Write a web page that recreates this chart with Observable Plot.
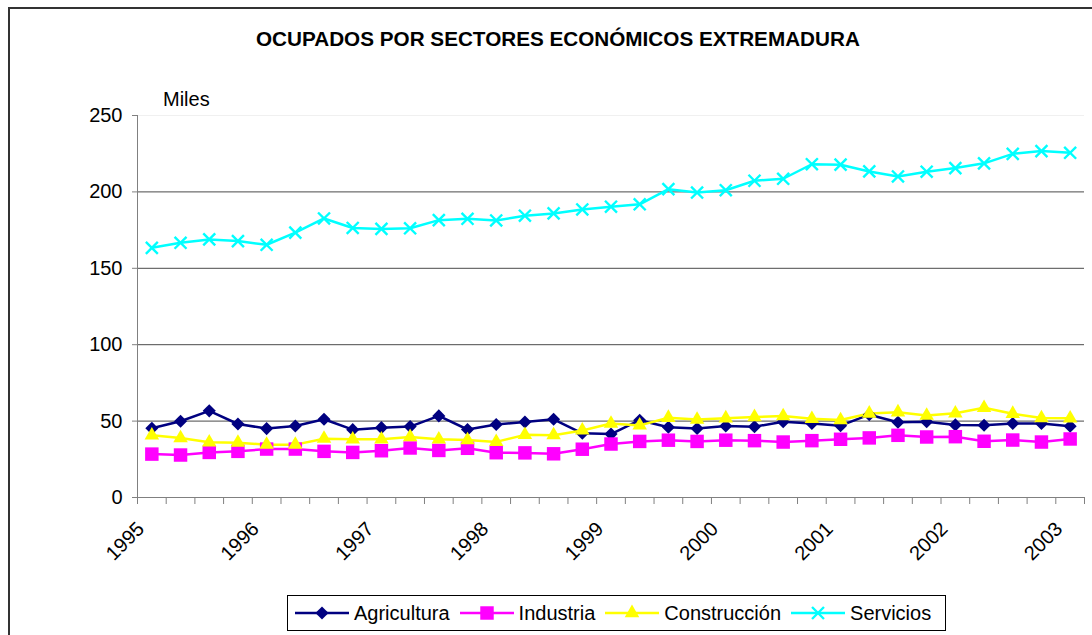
<!DOCTYPE html>
<html>
<head>
<meta charset="utf-8">
<script src="https://cdn.jsdelivr.net/npm/d3@7"></script>
<script src="https://cdn.jsdelivr.net/npm/@observablehq/plot@0.6"></script>
<style>
  html, body { margin: 0; padding: 0; background: #fff; overflow: hidden; }
  #wrap { position: relative; width: 1092px; height: 635px; overflow: hidden; font-family: "Liberation Sans", Arial, sans-serif; color: #000; }
  #border { position: absolute; left: 8px; top: 7px; width: 2000px; height: 2000px; border-top: 2px solid #333; border-left: 2px solid #333; }
  #chart { position: absolute; left: 0; top: 0; }
  #title { position: absolute; left: 256px; top: 28px; font-size: 20.7px; line-height: 21px; font-weight: bold; white-space: nowrap; }
  #unit { position: absolute; left: 163px; top: 89px; font-size: 20px; line-height: 20px; white-space: nowrap; }
  #legend { position: absolute; left: 287px; top: 595px; width: 657px; height: 34px; border: 1px solid #000; display: flex; align-items: center; font-size: 20px; white-space: nowrap; box-sizing: content-box; }
  .item { display: flex; align-items: center; margin-left: 7px; margin-right: 3px; }
  .item svg { margin-right: 5px; }
</style>
</head>
<body>
<div id="wrap">
  <div id="border"></div>
  <div id="chart"></div>
  <div id="title">OCUPADOS POR SECTORES ECONÓMICOS EXTREMADURA</div>
  <div id="unit">Miles</div>
  <div id="legend"></div>
</div>
<script>
// Quarterly categories 1995-I .. 2003-I
const quarters = [
  "1995-I","1995-II","1995-III","1995-IV",
  "1996-I","1996-II","1996-III","1996-IV",
  "1997-I","1997-II","1997-III","1997-IV",
  "1998-I","1998-II","1998-III","1998-IV",
  "1999-I","1999-II","1999-III","1999-IV",
  "2000-I","2000-II","2000-III","2000-IV",
  "2001-I","2001-II","2001-III","2001-IV",
  "2002-I","2002-II","2002-III","2002-IV",
  "2003-I"
];
const yearLabels = ["1995","1996","1997","1998","1999","2000","2001","2002","2003"];
const yTicks = [0, 50, 100, 150, 200, 250];

const seriesNames = ["Agricultura", "Industria", "Construcción", "Servicios"];
const seriesColors = ["#000080", "#FF00FF", "#FFFF00", "#00FFFF"];
const seriesSymbols = ["diamond2", "square", "triangle", "times"];

const agricultura = [45.3, 49.9, 56.7, 48.1, 45.1, 46.8, 51.2, 44.4, 45.7, 46.4, 53.4, 44.5, 47.8, 49.4, 51.2, 42.0, 41.5,
  50.6, 46.0, 45.2, 46.8, 46.3, 49.6, 48.4, 47.0, 54.2, 49.2, 49.6, 47.5, 47.3, 48.4, 48.4, 46.6];
const industria = [28.4, 27.8, 29.5, 30.2, 31.7, 31.7, 30.2, 29.5, 30.6, 32.4, 30.8, 32.2, 29.3, 29.2, 28.6, 31.6, 35.0,
  36.7, 37.5, 36.7, 37.5, 37.2, 36.3, 37.2, 38.1, 39.0, 40.7, 39.6, 39.8, 36.8, 37.6, 36.3, 38.3];
const construccion = [40.7, 38.9, 36.1, 35.9, 34.6, 34.6, 38.5, 38.1, 38.1, 39.6, 38.1, 37.6, 36.4, 41.0, 40.8, 43.9, 48.4,
  47.2, 52.2, 51.0, 51.9, 52.7, 53.3, 51.5, 50.7, 55.0, 55.8, 53.6, 55.1, 58.7, 54.8, 52.0, 51.8];
const servicios = [163.4, 166.7, 168.9, 167.8, 165.4, 173.3, 182.6, 176.4, 175.8, 176.2, 181.5, 182.4, 181.3, 184.4, 185.9, 188.5, 190.3,
  191.9, 201.8, 199.6, 201.1, 207.3, 208.6, 218.1, 217.8, 213.4, 210.1, 213.2, 215.6, 218.7, 224.9, 226.7, 225.6];

const seriesValues = [agricultura, industria, construccion, servicios];

const rows = seriesNames.map((name, s) =>
  seriesValues[s].map((v, i) => ({ serie: name, i, q: quarters[i], value: v }))
);

const n = quarters.length;
const boundaryTicks = d3.range(n + 1).map(k => k - 0.5);
const yearTicks = quarters.map((q, i) => i).filter(i => /-I$/.test(quarters[i]));

const marks = [
  Plot.gridY({ticks: [250], stroke: "#f0f0f0", strokeOpacity: 1}),
  Plot.gridY({ticks: yTicks.filter(t => t > 0 && t < 250), stroke: "#4a4a4a", strokeOpacity: 1}),
  Plot.ruleX([boundaryTicks[0]], {stroke: "#808080"}),
  Plot.ruleY([0], {stroke: "#808080"}),
  Plot.axisY({ticks: yTicks, tickSize: 5, tickPadding: 10, fontSize: 20, label: null, stroke: "#808080", fill: "#000"}),
  Plot.axisX({ticks: boundaryTicks, tickSize: 7, tickFormat: () => "", label: null, stroke: "#808080"}),
  Plot.axisX({ticks: yearTicks, tickSize: 0, tickPadding: 28, dx: -11, tickRotate: -45, fontSize: 20, label: null, fill: "#000",
    tickFormat: i => yearLabels[yearTicks.indexOf(i)]})
];

seriesNames.forEach((name, s) => {
  marks.push(Plot.line(rows[s], {x: "i", y: "value", stroke: seriesColors[s], strokeWidth: 2.5}));
});
seriesNames.forEach((name, s) => {
  const sym = seriesSymbols[s];
  if (sym === "times") {
    marks.push(Plot.dot(rows[s], {x: "i", y: "value", symbol: sym, r: 5.5, stroke: seriesColors[s], strokeWidth: 2.4, fill: "none"}));
  } else {
    const r = sym === "square" ? 7.6 : sym === "triangle" ? 5.4 : 5.9;
    marks.push(Plot.dot(rows[s], {x: "i", y: "value", symbol: sym, r, fill: seriesColors[s], stroke: "none"}));
  }
});

const chart = Plot.plot({
  width: 1092,
  height: 635,
  marginLeft: 137,
  marginRight: 8,
  marginTop: 115,
  marginBottom: 138,
  x: {type: "linear", domain: [boundaryTicks[0], boundaryTicks[n]]},
  y: {domain: [yTicks[0], yTicks[yTicks.length - 1]]},
  style: {fontFamily: "Liberation Sans, Arial, sans-serif", fontSize: "20px", background: "transparent", color: "#000", overflow: "visible"},
  marks
});
document.getElementById("chart").appendChild(chart);

// Legend (HTML with symbol swatches)
const legend = document.getElementById("legend");
seriesNames.forEach((name, s) => {
  const item = document.createElement("div");
  item.className = "item";
  const svg = d3.create("svg").attr("width", 54).attr("height", 20);
  svg.append("line").attr("x1", 0).attr("x2", 54).attr("y1", 10).attr("y2", 10)
    .attr("stroke", seriesColors[s]).attr("stroke-width", 2.5);
  const symMap = {diamond2: d3.symbolDiamond2, square: d3.symbolSquare, triangle: d3.symbolTriangle, times: d3.symbolTimes};
  const rr = seriesSymbols[s] === "square" ? 7.6 : seriesSymbols[s] === "triangle" ? 5.4 : seriesSymbols[s] === "times" ? 5.5 : 5.9;
  const path = d3.symbol(symMap[seriesSymbols[s]], Math.PI * rr * rr)();
  const p = svg.append("path").attr("d", path).attr("transform", "translate(27,10)");
  if (seriesSymbols[s] === "times") p.attr("fill", "none").attr("stroke", seriesColors[s]).attr("stroke-width", 2.4);
  else p.attr("fill", seriesColors[s]);
  item.appendChild(svg.node());
  const t = document.createElement("span");
  t.textContent = name;
  item.appendChild(t);
  legend.appendChild(item);
});
</script>
</body>
</html>
